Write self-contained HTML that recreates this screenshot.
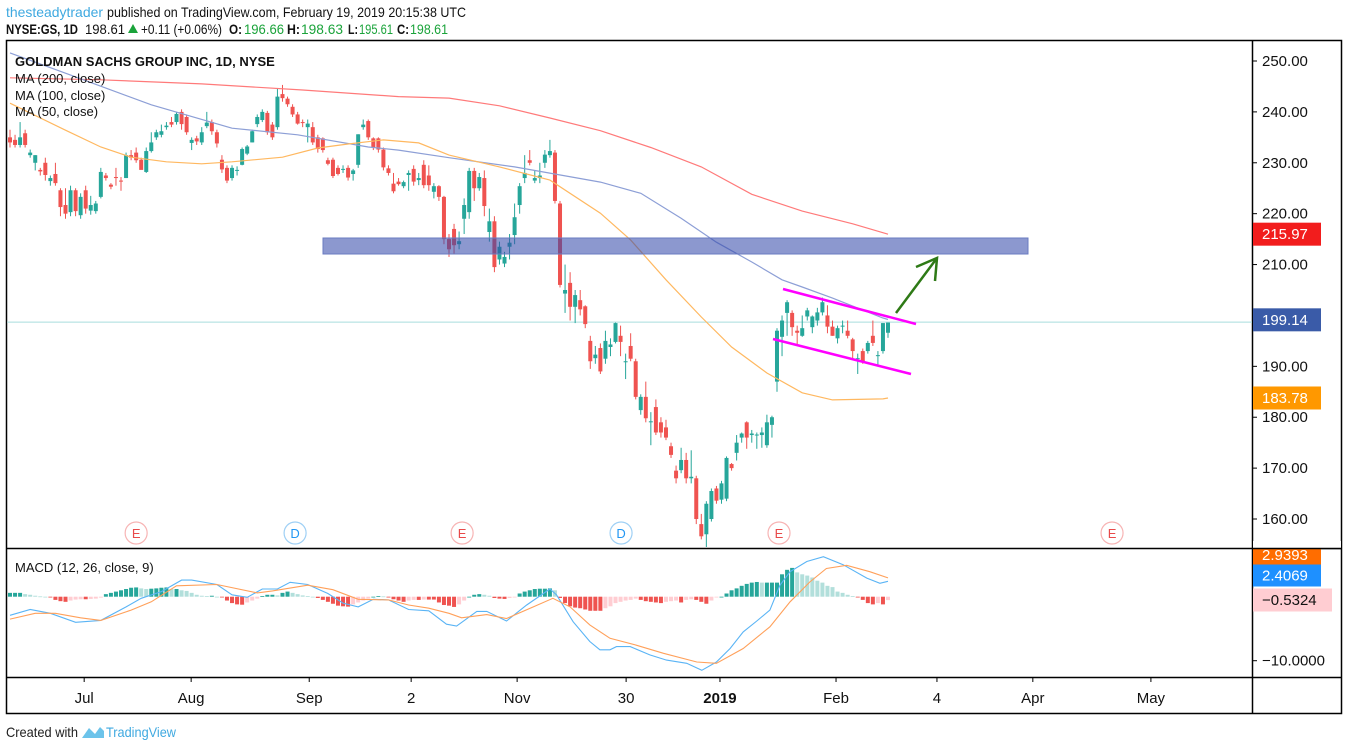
<!DOCTYPE html>
<html><head><meta charset="utf-8"><style>
html,body{margin:0;padding:0;background:#fff;}
svg{display:block;font-family:"Liberation Sans",sans-serif;}
</style></head><body>
<svg id="chart" width="1348" height="750" viewBox="0 0 1348 750">
<g font-size="14">
<text x="6" y="17" fill="#3fa9e0" textLength="97" lengthAdjust="spacingAndGlyphs">thesteadytrader</text>
<text x="107" y="17" fill="#111" textLength="359" lengthAdjust="spacingAndGlyphs">published on TradingView.com, February 19, 2019 20:15:38 UTC</text>
<text x="6" y="34" font-weight="bold" fill="#111" textLength="72" lengthAdjust="spacingAndGlyphs">NYSE:GS, 1D</text>
<text x="85" y="34" fill="#111" textLength="40" lengthAdjust="spacingAndGlyphs">198.61</text>
<polygon points="128,33 138,33 133,24" fill="#1aa33a"/>
<text x="141" y="34" fill="#111" textLength="81" lengthAdjust="spacingAndGlyphs">+0.11 (+0.06%)</text>
<text x="229" y="34" font-weight="bold" fill="#111" textLength="13" lengthAdjust="spacingAndGlyphs">O:</text>
<text x="244" y="34" fill="#1aa33a" textLength="40" lengthAdjust="spacingAndGlyphs">196.66</text>
<text x="287" y="34" font-weight="bold" fill="#111" textLength="13" lengthAdjust="spacingAndGlyphs">H:</text>
<text x="301" y="34" fill="#1aa33a" textLength="42" lengthAdjust="spacingAndGlyphs">198.63</text>
<text x="348" y="34" font-weight="bold" fill="#111" textLength="10" lengthAdjust="spacingAndGlyphs">L:</text>
<text x="359" y="34" fill="#1aa33a" textLength="34" lengthAdjust="spacingAndGlyphs">195.61</text>
<text x="397" y="34" font-weight="bold" fill="#111" textLength="12" lengthAdjust="spacingAndGlyphs">C:</text>
<text x="410" y="34" fill="#1aa33a" textLength="38" lengthAdjust="spacingAndGlyphs">198.61</text>
</g>
<g id="frame" stroke="#000" stroke-width="1.5" fill="none">
<rect x="6.5" y="40.5" width="1335" height="673"/>
<line x1="6.5" y1="548.5" x2="1341.5" y2="548.5"/>
<line x1="6.5" y1="677.5" x2="1341.5" y2="677.5"/>
<line x1="1252.5" y1="40.5" x2="1252.5" y2="713.5"/>
</g>
<g id="main"></g>
<g id="macd"></g>
<g id="axes"></g>
<g font-size="13" fill="#111">
<text x="15" y="66" font-weight="bold">GOLDMAN SACHS GROUP INC, 1D, NYSE</text>
<text x="15" y="83">MA (200, close)</text>
<text x="15" y="100">MA (100, close)</text>
<text x="15" y="116">MA (50, close)</text>
<text x="15" y="572">MACD (12, 26, close, 9)</text>
</g>
<g>
<text x="6" y="737" font-size="14" fill="#222" textLength="72" lengthAdjust="spacingAndGlyphs">Created with</text>
<path d="M82,738 L89,728 L95,734 L100,727 L104,731 L104,738 Z" fill="#6cc3ea"/>
<text x="106" y="737" font-size="14" fill="#3fa9e0" textLength="70" lengthAdjust="spacingAndGlyphs">TradingView</text>
</g>
</svg>
<script>
const opens=[235,234.5,233.5,235.8,231.5,230,228.6,230,226.4,227.8,224.6,221.7,220.3,224.6,219.7,224.6,220.6,220.5,223.3,227.5,225.7,227.2,226.5,227,231.5,232,230.6,228.2,232.3,235,235.5,237,238,238,240,239,233.9,234.8,234,237.2,238,236,230.6,229,227,228.4,229.6,231.8,234,237.6,238.4,239.8,237.5,237,243.5,242.6,241,239.5,238,237,237,235,234.8,230.5,230.6,229,228.6,229,227.8,229.6,237,238.2,234.8,234.8,232.6,228.9,225.9,226.3,225.4,227.6,228.8,226.6,229.6,227.5,224.3,225.4,223.3,215,217,214,219,220.3,228.4,225,227,216.4,218.5,211,210.2,213.5,215.8,221.7,227,230.5,226.5,227,230,231.5,232,222,204.3,206.4,201.7,203,201.8,195,191.6,193.6,191.5,193.8,194.8,196,190.8,194,191,181.4,184,179,182,179,178,174.3,169.5,169.6,171.6,168,168,159,157,160,166,163.8,164,170.8,173,176,179,176.5,176.5,176.5,174.5,178.5,187,195.8,200.5,200.5,197,196,199.8,197.7,199,200.6,200,197.8,195.5,198,197,195.3,191.6,193,193,196,192.2,193,196.6];
const highs=[236.5,235.5,238,236.5,232.6,231.5,229,231,227.5,230,225,225,225.5,225,224,225.5,223.5,222.5,229,228,226,229,227.2,232,232.5,233,231,233,236,236.5,237.5,238,239,240,240.5,239.5,235,235.3,237,240,238.5,236.5,231.5,229.5,229.5,229.3,233,233.5,236.5,239.5,240.5,240.2,238,244.6,245.3,243,241.5,240,238.5,238.5,238,235.5,235,231,231,229.5,229.5,229.5,228.8,235.6,238.5,238.5,235,235,233,229.5,228,227,226.5,228.5,229.5,228,230.5,229.5,226,225.6,223.5,216,218,216.5,223,229,229,228,228.5,221,219.5,214.5,212.5,216,222,226,231.5,232.5,228.5,230,232.5,234.5,232.5,222.5,210,208.5,205,205,202,196,194,194.5,197,195.5,198.6,198,192.5,196.5,191.5,184.5,187,181,183.5,180,179.5,175,170.5,174,173,173.5,168.5,161,163.5,166,166.5,167.5,172.3,171,176.5,177,179.2,177.5,177,178,180.5,180.3,197.5,200,203,201,198,200,201.5,200,201.5,203.5,202,199,198,199,199,195.6,192.5,193.5,195,199,193,198.5,198.6];
const lows=[233,233,233,233,231,228.5,227.5,226.5,225.5,225.5,219.5,219,219.5,219.5,219,220,219.8,220,223,226.5,224.8,225.5,224.5,227,230.5,230,229,228,232,234.5,235,236.5,237,237.5,236.5,235.5,232.5,233.5,233.5,236.8,235.5,233,228,226,226.5,227.5,229.5,231.5,234,237,238,235.5,234.5,236.5,242,241,239,237.5,237,234,233.5,232,232,229.5,227,227.5,228,226.5,226.5,229,236.5,234.5,232.5,232,228.5,227.5,224,225.5,225,224.5,225.5,225.6,225,224.5,223,222.5,214,211.5,212,213,216,219,222.5,224.5,219.5,214.5,208.5,210,209.5,211,214,220,226,229.5,226,226,229,231,222,205.5,200.5,199,198.5,200,197.5,189.5,190.5,188.5,190.5,192,194.5,192,187.5,191,183.5,180.5,179,174.5,176.5,176,175.5,172,167,169,167,167,159,156,154.5,159.5,163,163,163.5,169.5,171.5,175,173.8,175,173.8,174,174,176,185,192,196,196,194,195.8,199,196.5,198,200,196.5,196,194.5,196.5,195.5,191.5,188.5,190.5,192.5,194,190.3,192.5,195.6];
const closes=[234,233.5,235,233.5,232,231.5,228.3,227.6,227,226,221.3,220,224.6,220.5,223.3,221,221.7,222,228.2,227,225.3,227,226.4,231.5,231,230.5,228.6,232.3,234,236,236.2,237.3,237.5,239.6,237.6,236,234.5,234.2,236,237.9,236.2,233.8,228.7,226.5,229,228.6,232.7,233.2,236.2,239,240,236,235,243,242.7,241.5,239.5,237.7,237.8,237.7,234,232.7,232.5,229.8,227.4,227.8,228.8,227.1,228.5,235.6,237.5,235,233,232.6,229.1,228,224.4,225.8,226.2,228,226.3,227,225.6,225.6,225.4,223.3,215,213,213.8,214.6,221.7,228.4,225,227.2,221.5,218.5,209.5,213.5,211.5,214.3,219.3,225.4,228,230,227,227.5,231.6,232.3,222.5,206,205,201.7,204,201.2,198.3,191,192.3,189,195,194.3,198.5,194.8,191,191.5,184,184,179.8,179.2,177,177,176,172.6,168,171.6,168,168.3,160,156.6,163,165.5,163.6,167,172,170,175,176.8,176,176.8,176.6,177,179,180,197,199,202.6,197.7,196.6,197.5,201,199.8,200.6,202.6,197.8,196,197.5,198,196,193,191.6,191,194.6,194.6,192.2,198.5,198.6];
const ma200Idx=[0,18,38,58,77,87,97,107,117,127,137,147,157,167,174];
const ma200Vals=[246.7,246.3,245.5,244.3,243,242.7,241.2,238.8,236.3,233,229.2,223.8,220.5,218,215.97];
const ma100Idx=[0,11,28,44,57,71,77,87,100,117,125,133,140,147,153,157,163,173,174];
const ma100Vals=[251.6,247.6,241.4,236.8,235.5,233.1,232.5,231,229.2,226.2,224,219.1,214.4,210.5,207,205.6,203.4,199.5,199.2];
const ma50Idx=[0,11,18,24,31,38,44,54,61,67,74,81,87,97,107,117,123,130,137,143,150,157,163,173,174];
const ma50Vals=[241.7,236.4,233.1,231.1,230.2,229.8,230.2,231.1,232.9,233.7,234.5,233.9,231.5,229.2,226.6,220.1,214.8,207,199.7,193.8,188.7,184.8,183.4,183.6,183.78];
const histVals=[0.6,0.6,0.6,0.4,0.3,0.15,0.05,0,-0.1,-0.5,-0.7,-0.8,-0.6,-0.45,-0.4,-0.4,-0.35,-0.3,-0.15,0.4,0.6,0.8,1.0,1.2,1.4,1.45,1.3,1.2,1.25,1.3,1.4,1.45,1.2,1.2,1.0,0.9,0.6,0.3,0.15,0.1,0.15,0,-0.1,-0.6,-1.0,-1.2,-1.25,-0.9,-0.6,-0.3,0.1,0.3,0.3,0.2,0.6,0.8,0.6,0.4,0.2,0.1,0,-0.2,-0.5,-0.8,-1.1,-1.4,-1.5,-1.55,-1.2,-0.9,-0.6,-0.3,0,0.1,0.05,-0.05,-0.4,-0.6,-0.8,-0.6,-0.5,-0.5,-0.45,-0.45,-0.45,-0.9,-1.3,-1.4,-1.6,-1.2,-0.6,0,0.3,0.4,0.3,0.15,-0.2,-0.3,-0.35,-0.2,-0.1,0.5,0.8,1.0,1.2,1.25,1.25,1.3,1.0,-0.2,-1.0,-1.5,-1.7,-1.8,-2.0,-2.2,-2.2,-2.2,-1.8,-1.5,-1.0,-0.8,-0.6,-0.5,-0.3,-0.5,-0.7,-0.8,-0.9,-1.0,-0.8,-0.7,-0.6,-0.9,-0.5,-0.4,-0.5,-0.8,-1.1,-0.6,-0.1,0,0.5,1.0,1.3,1.7,2.0,2.2,2.3,2.2,2.2,2.2,2.2,3.5,4.2,4.5,3.8,3.5,3.3,3.0,2.5,2.2,1.7,1.5,0.8,0.6,0.3,0.1,-0.1,-0.5,-1.0,-1.2,-1.0,-1.2,-0.5324];
const macdIdx=[0,4,8,13,18,23,26,30,34,36,41,44,47,50,53,55.5,59,63,66,69,72,75,79,83,86.5,88.5,92.5,94.5,98.4,102.4,107,108.3,111.6,114.9,116.9,118.9,120.2,122.9,126.8,130.1,134.1,137.1,140,142.7,145.3,148,150.6,152.6,154.6,157.9,161.2,165.1,169.8,172.4,174];
const macdVals=[-2.9,-2.0,-2.6,-4.0,-3.7,-1.6,-0.25,0.8,2.6,2.6,1.9,0.3,-0.1,1.2,1.2,2.25,1.9,0.5,-1.0,-1.6,-0.4,-0.5,-2.0,-2.2,-4.3,-4.6,-2.3,-2.3,-3.8,-1.3,1.2,0.3,-3.9,-7.0,-8.3,-8.3,-7.8,-7.8,-9.1,-9.9,-10.4,-11.5,-10.2,-8.1,-5.5,-3.8,-2.1,1.8,3.9,5.5,6.25,5.0,2.9,2.1,2.4069];
const sigIdx=[0,5,9,14,18,24,28,33,41,49,52,59,64,69,75,79,83,87,89.5,94.5,98.4,103.7,107.6,111,114.9,118.9,124.2,129.5,136.1,140,145.3,150.6,154.6,158.5,161.8,165.8,170.4,174];
const sigVals=[-3.5,-2.6,-2.6,-3.3,-3.7,-2.1,-0.8,1.7,1.9,0.6,0.9,1.8,1.1,-0.4,-0.5,-1.3,-1.8,-2.6,-3.3,-2.8,-3.4,-1.6,-0.25,-1.6,-4.4,-6.5,-7.6,-8.85,-10.2,-10.4,-8.1,-4.7,-0.8,2.3,4.4,4.9,3.9,2.9393];
const priceTicks=[250,240,230,220,210,200,190,180,170,160];
const timeLabels=["Jul","Aug","Sep","2","Nov","30","2019","Feb","4","Apr","May"];
const timeIdx=[14.7,35.9,59.3,79.5,100.5,122.1,140.7,163.7,183.7,202.7,226.1];
const eventLabels=["E","D","E","D","E","E"];
const eventIdx=[25,56.5,89.6,121.1,152.4,218.4];

const NS="http://www.w3.org/2000/svg";
const xOf=i=>10+i*5.046;
const yP=p=>61+(250-p)*5.089;
const yM=v=>596.7-v*6.4;
function mk(parent,tag,attrs){const e=document.createElementNS(NS,tag);for(const k in attrs)e.setAttribute(k,attrs[k]);parent.appendChild(e);return e;}
const main=document.getElementById('main'),macd=document.getElementById('macd'),axes=document.getElementById('axes');

let hl=mk(main,'line',{x1:7,x2:1252,y1:yP(198.7),y2:yP(198.7),stroke:'#a9dede','stroke-width':1});



for(let i=0;i<closes.length;i++){
  const up=closes[i]>=opens[i];const col=up?'#26a69a':'#ef5350';const x=xOf(i);
  const g=mk(main,'g',{});
  
  
  mk(g,'line',{x1:x,x2:x,y1:yP(highs[i]),y2:yP(lows[i]),stroke:col,'stroke-width':1});
  const t=yP(Math.max(opens[i],closes[i])),b=yP(Math.min(opens[i],closes[i]));
  mk(g,'rect',{x:x-2,y:t,width:4,height:Math.max(1,b-t),fill:col});
}
function line(parent,idx,vals,yf,col,w,name){
  const p=mk(parent,'polyline',{points:idx.map((k,j)=>xOf(k).toFixed(1)+','+yf(vals[j]).toFixed(1)).join(' '),fill:'none',stroke:col,'stroke-width':w});
  
  
}
line(main,ma200Idx,ma200Vals,yP,'#ff7a7a',1.2,'ma-200-line');
line(main,ma100Idx,ma100Vals,yP,'#8d9fd6',1.2,'ma-100-line');
line(main,ma50Idx,ma50Vals,yP,'#ffb860',1.2,'ma-50-line');

let zr=mk(main,'rect',{x:323,y:238,width:705,height:16,fill:'rgba(52,74,170,0.57)',stroke:'#6a7bc0','stroke-width':1});


let c1=mk(main,'line',{x1:783,y1:289,x2:916,y2:324,stroke:'#ff00ff','stroke-width':2.5});


let c2=mk(main,'line',{x1:773,y1:339,x2:911,y2:374,stroke:'#ff00ff','stroke-width':2.5});


let ar=mk(main,'path',{d:'M896,313 L937,258 M916,267 L937,258 L935,281',fill:'none',stroke:'#2e7a16','stroke-width':2.5});



eventLabels.forEach((t,j)=>{
  const x=xOf(eventIdx[j]);const isE=t==='E';
  const g=mk(main,'g',{});
  
  
  mk(g,'circle',{cx:x,cy:533,r:11,fill:'#fff',stroke:isE?'#f7b4b4':'#9fd0f5','stroke-width':1.2});
  const tx=mk(g,'text',{x:x,y:538,'text-anchor':'middle','font-size':13,fill:isE?'#e84a4a':'#2196f3'});tx.textContent=t;
});

for(let i=0;i<histVals.length;i++){
  const v=histVals[i],pv=i>0?histVals[i-1]:v;let col;
  if(v>=0)col=v>=pv?'#26a69a':'#b2dfdb';else col=v<=pv?'#ef5350':'#ffcdd2';
  const y0=yM(0),y1=yM(v);
  const r=mk(macd,'rect',{x:xOf(i)-2,y:Math.min(y0,y1),width:4,height:Math.max(0.8,Math.abs(y1-y0)),fill:col});
  
  
}
line(macd,macdIdx,macdVals,yM,'#5ab4f5',1.1,'macd-line');
line(macd,sigIdx,sigVals,yM,'#ffa05a',1.1,'signal-line');

priceTicks.forEach(p=>{
  const y=yP(p);
  mk(axes,'line',{x1:1252,x2:1257,y1:y,y2:y,stroke:'#000'});
  const t=mk(axes,'text',{x:1262,y:y+5,'font-size':15,fill:'#111'});t.textContent=p.toFixed(2);
  
  
});
function badge(y,h,txt,bg,fg,w,name){
  const g=mk(axes,'g',{});
  
  
  mk(g,'rect',{x:1253,y:y-h/2,width:w,height:h,fill:bg});
  const t=mk(g,'text',{x:1262,y:y+5,'font-size':15,fill:fg});t.textContent=txt;
}
badge(yP(ma200Vals[ma200Vals.length-1]),23,ma200Vals[ma200Vals.length-1].toFixed(2),'#f21d1d','#fff',68,'ma-200-price-label');
badge(yP(199.14),23,'199.14','#3a5ba8','#fff',68,'horizontal-line-price-label');
badge(yP(ma50Vals[ma50Vals.length-1]),23,ma50Vals[ma50Vals.length-1].toFixed(2),'#ff9800','#fff',68,'ma-50-price-label');
mk(axes,'line',{x1:1252,x2:1257,y1:yM(-10),y2:yM(-10),stroke:'#000'});
let mt=mk(axes,'text',{x:1262,y:yM(-10)+5,'font-size':15,fill:'#111'});mt.textContent='\u221210.0000';
badge(555,22,sigVals[sigVals.length-1].toFixed(4),'#ff6d00','#fff',68,'signal-value-label');
badge(575.5,22,macdVals[macdVals.length-1].toFixed(4),'#1e90ff','#fff',68,'macd-value-label');
badge(600,23,'\u2212'+Math.abs(histVals[histVals.length-1]).toFixed(4),'#ffcdd2','#111',79,'histogram-value-label');
mk(axes,'rect',{x:1253,y:541,width:88,height:7,fill:'#fff'});
mk(axes,'line',{x1:1252,x2:1341,y1:548.5,y2:548.5,stroke:'#000','stroke-width':1.5});
timeLabels.forEach((t,j)=>{
  const x=xOf(timeIdx[j]);
  mk(axes,'line',{x1:x,x2:x,y1:677,y2:682,stroke:'#000'});
  const tx=mk(axes,'text',{x:x,y:703,'text-anchor':'middle','font-size':15,fill:'#111','font-weight':t==='2019'?'bold':'normal'});tx.textContent=t;
  
  
});
</script>
</body></html>
